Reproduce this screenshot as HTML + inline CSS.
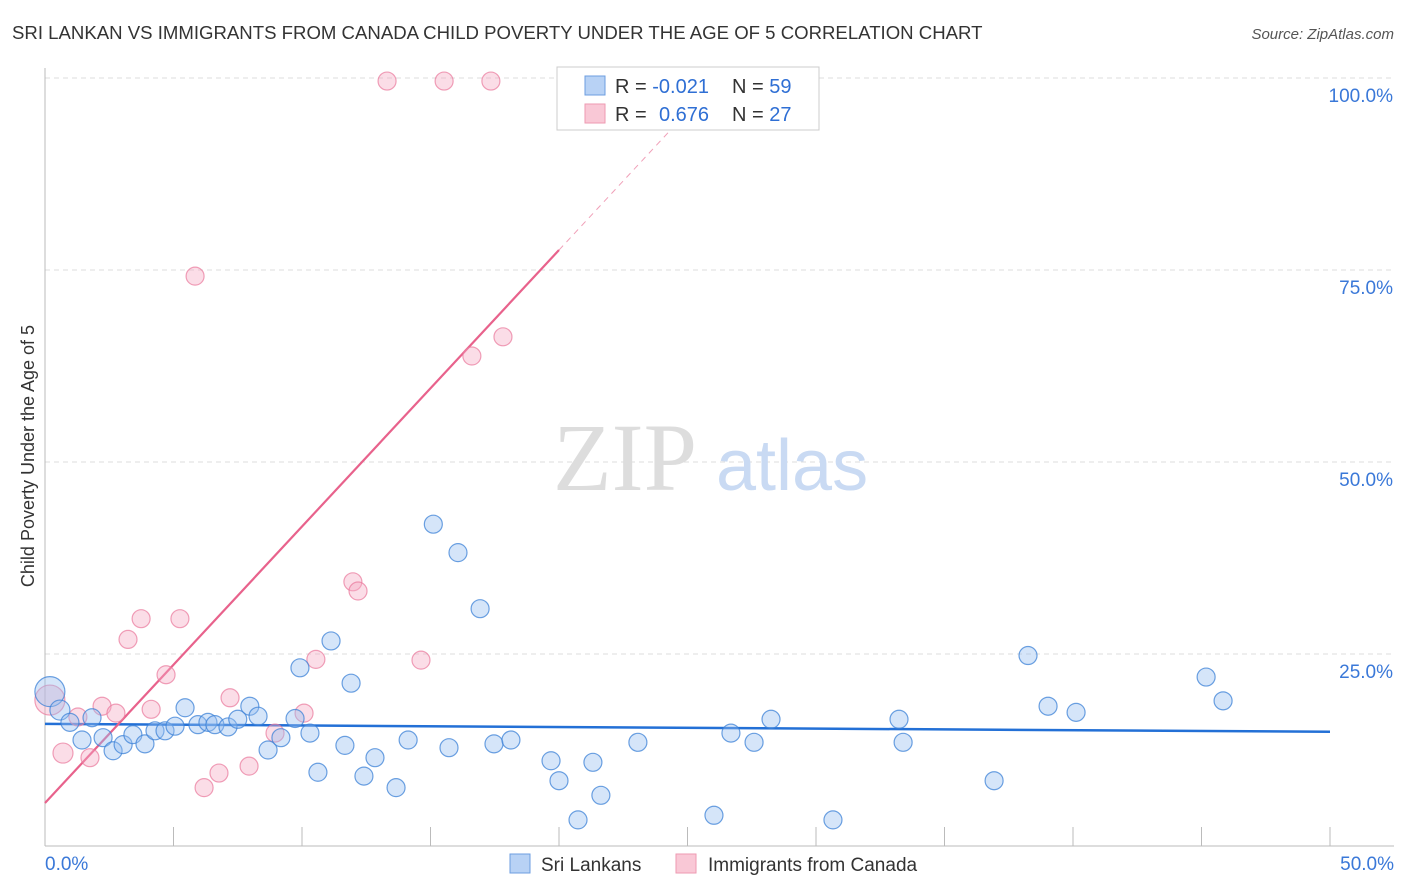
<!DOCTYPE html>
<html><head><meta charset="utf-8"><style>
body{margin:0;background:#fff;font-family:"Liberation Sans",sans-serif;}
#wrap{position:relative;width:1406px;height:892px;overflow:hidden}
</style></head><body>
<div id="wrap">
<svg id="svg" width="1406" height="892" xmlns="http://www.w3.org/2000/svg">
<text x="12" y="39" font-size="18.6" fill="#333">SRI LANKAN VS IMMIGRANTS FROM CANADA CHILD POVERTY UNDER THE AGE OF 5 CORRELATION CHART</text>
<text x="1394" y="39" font-size="15" fill="#555" text-anchor="end" font-style="italic">Source: ZipAtlas.com</text>
<text x="34" y="456" font-size="18" fill="#333" text-anchor="middle" transform="rotate(-90 34 456)">Child Poverty Under the Age of 5</text>
<g id="grid"></g>
<text x="553" y="490" font-size="96" fill="#ddd" font-family="Liberation Serif,serif">ZIP</text>
<text x="716" y="490" font-size="72" fill="#c9daf3">atlas</text>
<g id="lines"></g>
<g id="pts"></g>
<g>
<rect x="557" y="67" width="262" height="63" fill="#fff" stroke="#ccc"/>
<rect x="585" y="76" width="20" height="19" fill="#b8d2f5" stroke="#6c9ee0"/>
<rect x="585" y="104" width="20" height="19" fill="#f9c8d6" stroke="#ee9ab2"/>
<text x="615" y="93" font-size="20" fill="#333">R = <tspan fill="#2f6fd4">-0.021</tspan><tspan x="732">N = </tspan><tspan fill="#2f6fd4">59</tspan></text>
<text x="615" y="121" font-size="20" fill="#333">R = <tspan x="659" fill="#2f6fd4">0.676</tspan><tspan x="732">N = </tspan><tspan fill="#2f6fd4">27</tspan></text>
</g>
<g>
<rect x="510" y="854" width="20" height="19" fill="#b8d2f5" stroke="#6c9ee0"/>
<text x="541" y="871" font-size="19" fill="#333">Sri Lankans</text>
<rect x="676" y="854" width="20" height="19" fill="#f9c8d6" stroke="#ee9ab2"/>
<text x="708" y="871" font-size="19" fill="#333">Immigrants from Canada</text>
</g>
</svg>
</div>
<script>
const xTicksLabels=["0.0%","50.0%"];
const yTickValues=[25,50,75,100];
const yTickLabels=["25.0%","50.0%","75.0%","100.0%"];
const blueX=[0.19,0.58,0.97,1.83,1.44,2.26,2.65,3.04,3.42,3.89,4.28,4.67,5.06,5.45,5.95,6.34,6.61,7.12,7.5,7.97,8.29,8.68,9.18,9.73,9.92,10.31,10.62,11.13,11.67,11.91,12.41,12.84,13.66,14.13,15.11,15.72,16.07,16.93,17.47,18.13,19.69,20.0,20.74,21.32,21.63,23.07,26.03,26.69,27.59,28.25,30.66,33.23,33.39,36.93,38.25,39.03,40.12,45.18,45.84];
const blueY=[20.1,17.7,16.1,16.7,13.8,14.1,12.4,13.2,14.5,13.3,15.0,15.0,15.6,18.0,15.8,16.1,15.8,15.5,16.5,18.2,16.9,12.5,14.1,16.6,23.2,14.7,9.6,26.7,13.1,21.2,9.1,11.5,7.6,13.8,41.9,12.8,38.2,30.9,13.3,13.8,11.1,8.5,3.4,10.9,6.6,13.5,4.0,14.7,13.5,16.5,3.4,16.5,13.5,8.5,24.8,18.2,17.4,22.0,18.9];
const blueR=[15,10,9,9,9,9,9,9,9,9,9,9,9,9,9,9,9,9,9,9,9,9,9,9,9,9,9,9,9,9,9,9,9,9,9,9,9,9,9,9,9,9,9,9,9,9,9,9,9,9,9,9,9,9,9,9,9,9,9];
const pinkX=[0.19,0.7,1.28,1.75,2.22,2.76,3.23,3.74,4.13,4.71,5.25,5.84,6.19,6.77,7.2,7.94,8.95,10.08,10.54,11.98,12.18,13.31,14.63,15.53,16.61,17.35,17.82];
const pinkY=[19.0,12.1,16.8,11.5,18.2,17.3,26.9,29.6,17.8,22.3,29.6,74.2,7.6,9.5,19.3,10.4,14.7,17.3,24.3,34.4,33.2,99.6,24.2,99.6,63.8,99.6,66.3];
const pinkR=[15,10,9,9,9,9,9,9,9,9,9,9,9,9,9,9,9,9,9,9,9,9,9,9,9,9,9];
const blueFit=[15.9,-0.0205];
const pinkFit=[5.6,3.6];
const X0=45,X1=1330,Y0=846,YS=7.68;
function sx(v){return X0+(X1-X0)*v/50;}
function sy(v){return Y0-v*YS;}
const NS="http://www.w3.org/2000/svg";
function mk(tag,attrs,parent){const e=document.createElementNS(NS,tag);for(const k in attrs)e.setAttribute(k,attrs[k]);parent.appendChild(e);return e;}
const grid=document.getElementById('grid');
yTickValues.forEach((v,i)=>{
 const l=mk('line',{x1:45,x2:1394,y1:sy(v),y2:sy(v),stroke:'#ddd','stroke-dasharray':'5,4'},grid);
 
 
 const t=mk('text',{x:1393,y:sy(v)+24,'font-size':19,fill:'#3a78d8','text-anchor':'end'},grid);
 t.textContent=yTickLabels[i];
 
 
});
const yax=mk('line',{x1:45,x2:45,y1:68,y2:846,stroke:'#bbb'},grid);


const xax=mk('line',{x1:45,x2:1394,y1:846,y2:846,stroke:'#bbb'},grid);


for(let i=1;i<=10;i++){const t=mk('line',{x1:sx(i*5),x2:sx(i*5),y1:827,y2:846,stroke:'#bbb'},grid);
 
 }
[[0,'start',45],[50,'end',1394]].forEach((a,i)=>{const t=mk('text',{x:a[2],y:870,'font-size':19,fill:'#3a78d8','text-anchor':a[1]},grid);t.textContent=xTicksLabels[i];
 
 });
const pts=document.getElementById('pts');
function draw(xs,ys,rs,fill,stroke,name){xs.forEach((x,i)=>{const c=mk('circle',{cx:sx(x),cy:sy(ys[i]),r:rs[i],fill:fill,stroke:stroke,'stroke-width':1.2},pts);
 
 });}
draw(pinkX,pinkY,pinkR,'rgba(246,170,195,0.4)','rgba(234,120,155,0.7)','immigrants-canada-point');
draw(blueX,blueY,blueR,'rgba(150,190,240,0.4)','rgba(60,130,215,0.75)','sri-lankan-point');
const lines=document.getElementById('lines');
const bl=mk('line',{x1:sx(0),y1:sy(blueFit[0]),x2:sx(50),y2:sy(blueFit[0]+blueFit[1]*50),stroke:'#2370d6','stroke-width':2.5},lines);


const pl=mk('line',{x1:sx(0),y1:sy(pinkFit[0]),x2:sx(20),y2:sy(pinkFit[0]+pinkFit[1]*20),stroke:'#e8628c','stroke-width':2.2},lines);


const pd=mk('line',{x1:sx(20),y1:sy(pinkFit[0]+pinkFit[1]*20),x2:sx(25.3),y2:sy(pinkFit[0]+pinkFit[1]*25.3),stroke:'#f0a0b8','stroke-width':1,'stroke-dasharray':'6,5'},lines);


</script>
</body></html>
